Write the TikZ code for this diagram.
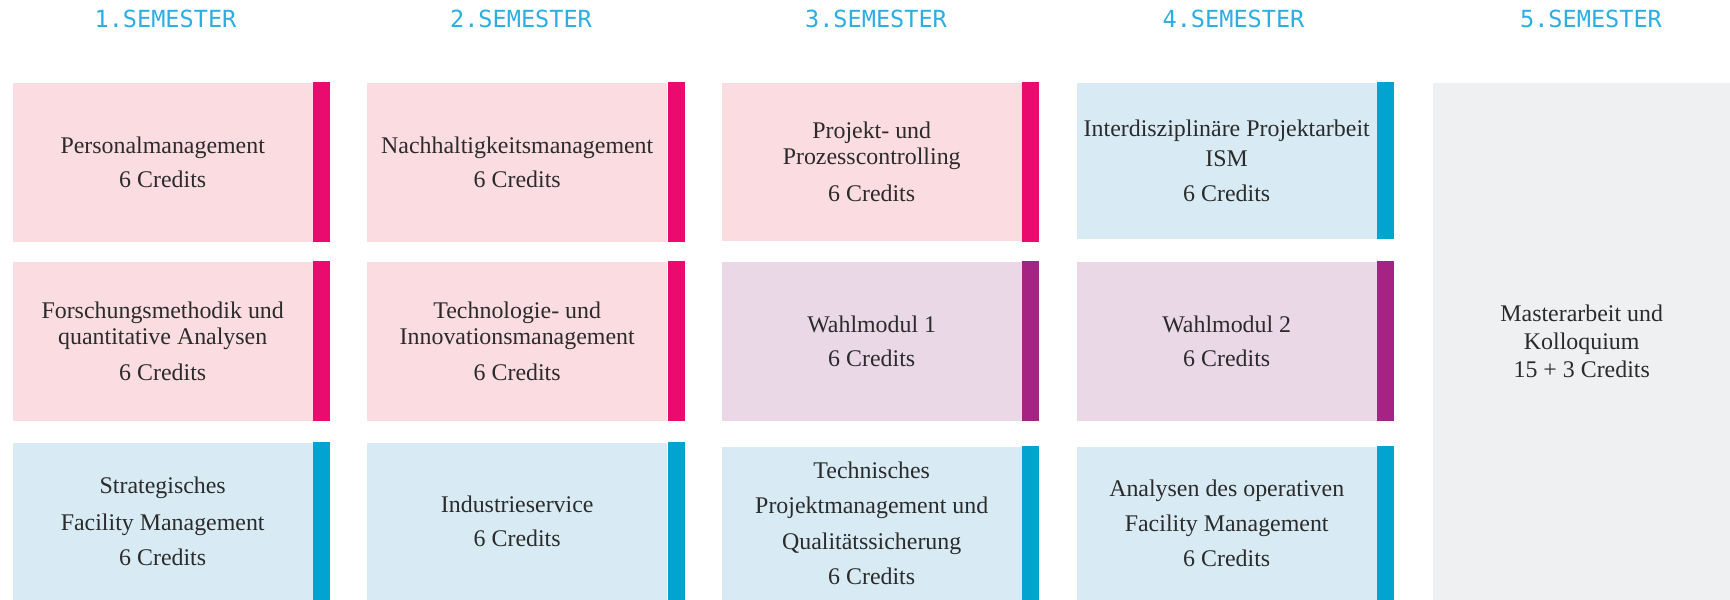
\documentclass[tikz,border=0pt]{standalone}
\usepackage{fontspec}
\setmainfont{Liberation Serif}
\newfontfamily\headfont{DejaVu Sans Mono}
\usepackage{tikz}

\definecolor{pinkfill}{HTML}{FBDCE1}
\definecolor{pinkbar}{HTML}{EB0B6E}
\definecolor{lilafill}{HTML}{EAD8E7}
\definecolor{lilabar}{HTML}{A42383}
\definecolor{bluefill}{HTML}{D8EBF4}
\definecolor{bluebar}{HTML}{00A4CE}
\definecolor{grayfill}{HTML}{EFF0F2}
\definecolor{headblue}{HTML}{2AAEE4}
\definecolor{textgray}{HTML}{2B2B2B}

\tikzset{
  modul/.style={rectangle,anchor=north west,align=center,inner sep=0pt,
    minimum width=3cm,text=textgray,font=\fontsize{6.8}{7.4}\selectfont},
  pinkbox/.style={modul,fill=pinkfill},
  lilabox/.style={modul,fill=lilafill},
  bluebox/.style={modul,fill=bluefill},
  semester/.style={text=headblue,font=\headfont\fontsize{6.7}{7}\selectfont}
}

\begin{document}
\begin{tikzpicture}
  \useasboundingbox (0,0) rectangle (17.30,-5.99);

  % semester headings
  \foreach \s/\x in {1/1.655,2/5.21,3/8.76,4/12.335,5/15.91}
    \node[semester] (s\s) at (\x,-0.19) {\s.SEMESTER};

  % 1. semester
  \node[pinkbox,minimum height=1.59cm] (pm) at (0.12,-0.82)
    {Personalmanagement\\[2.5pt]6 Credits};
  \node[pinkbox,minimum height=1.59cm] (fm) at (0.12,-2.61)
    {Forschungsmethodik und\\quantitative Analysen\\[3pt]6 Credits};
  \node[bluebox,minimum height=1.57cm] (sfm) at (0.12,-4.42)
    {Strategisches\\[3pt]Facility Management\\[2.5pt]6 Credits};

  % 2. semester
  \node[pinkbox,minimum height=1.59cm] (nm) at (3.665,-0.82)
    {Nachhaltigkeitsmanagement\\[2.5pt]6 Credits};
  \node[pinkbox,minimum height=1.59cm] (tim) at (3.665,-2.61)
    {Technologie- und\\Innovationsmanagement\\[3pt]6 Credits};
  \node[bluebox,minimum height=1.57cm] (is) at (3.665,-4.42)
    {Industrieservice\\[2.5pt]6 Credits};

  % 3. semester
  \node[pinkbox,minimum height=1.585cm] (ppc) at (7.21,-0.82)
    {Projekt- und\\Prozesscontrolling\\[3pt]6 Credits};
  \node[lilabox,minimum height=1.59cm] (wm1) at (7.21,-2.61)
    {Wahlmodul 1\\[2.5pt]6 Credits};
  \node[bluebox,minimum height=1.53cm] (tpq) at (7.21,-4.46)
    {Technisches\\[2.7pt]Projektmanagement und\\[2.7pt]Qualitätssicherung\\[2.7pt]6 Credits};

  % 4. semester
  \node[bluebox,minimum height=1.56cm] (ipa) at (10.76,-0.82)
    {Interdisziplinäre Projektarbeit\\[1pt]ISM\\[2.5pt]6 Credits};
  \node[lilabox,minimum height=1.59cm] (wm2) at (10.76,-2.61)
    {Wahlmodul 2\\[2.5pt]6 Credits};
  \node[bluebox,minimum height=1.53cm] (aofm) at (10.76,-4.46)
    {Analysen des operativen\\[2.7pt]Facility Management\\[2.5pt]6 Credits};

  % 5. semester
  \node[modul,fill=grayfill,minimum width=2.98cm,minimum height=5.17cm] (mak)
    at (14.32,-0.82) {Masterarbeit und\\[0.5pt]Kolloquium\\[0.5pt]15 + 3 Credits};

  % colour bars
  \foreach \n/\c in {pm/pinkbar,fm/pinkbar,sfm/bluebar,nm/pinkbar,tim/pinkbar,
      is/bluebar,ppc/pinkbar,wm1/lilabar,tpq/bluebar,ipa/bluebar,wm2/lilabar,
      aofm/bluebar}
    \fill[\c] (\n.north east) rectangle ([xshift=1.7mm]\n.south east);
\end{tikzpicture}
\end{document}
